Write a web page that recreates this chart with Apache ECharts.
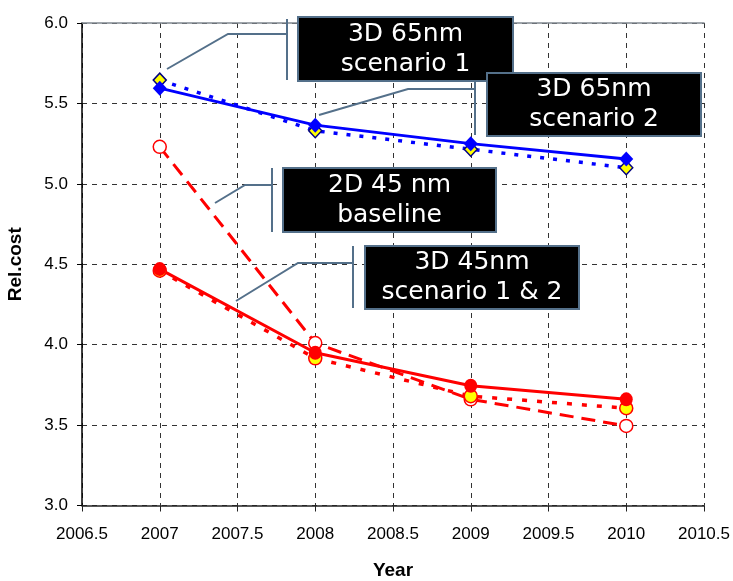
<!DOCTYPE html>
<html><head><meta charset="utf-8">
<script src="https://cdn.jsdelivr.net/npm/echarts@6/dist/echarts.min.js"></script>
<style>html,body{margin:0;padding:0;background:#fff}#c{width:733px;height:581px}</style>
</head><body><div id="c"></div>
<script>
// ---- data ----
const years = [2007, 2008, 2009, 2010];
const nm65_scenario1 = [5.595, 5.365, 5.25, 5.155];
const nm65_scenario2 = [5.645, 5.33, 5.215, 5.10];
const nm45_3d_scen1 = [4.47, 3.95, 3.745, 3.66];
const nm45_3d_scen2 = [4.46, 3.915, 3.68, 3.605];
const nm45_2d_base = [5.23, 4.01, 3.66, 3.495];
const calloutTexts = ['3D 65nm\nscenario 1', '3D 65nm\nscenario 2', '2D 45 nm\nbaseline', '3D 45nm\nscenario 1 & 2'];
const xTicks = {min: 2006.5, max: 2010.5, step: 0.5};
const yTicks = {min: 3.0, max: 6.0, step: 0.5};

// ---- layout of callouts (pixels) ----
const calloutLayout = [
  {box:[298,17,215,64], leader:[[167,69],[228,34],[287,34]], bar:[287,19,80]},
  {box:[487,73,214,63], leader:[[319,115],[408,89],[475,89]], bar:[475,73,135]},
  {box:[283,168,213,64], leader:[[215,203],[245,185],[272,185]], bar:[272,168,232]},
  {box:[365,246,214,63], leader:[[236,301],[298,263],[353,263]], bar:[353,246,308]}
];

const pair = arr => years.map((y,i)=>[y, arr[i]]);
const chart = echarts.init(document.getElementById('c'), null, {renderer:'canvas'});

const slate = '#54708a';
const graphic = [];
calloutTexts.forEach((t,i)=>{
  const L = calloutLayout[i];
  graphic.push({type:'polyline', shape:{points:L.leader}, style:{stroke:slate, lineWidth:2, fill:null}, z:100});
  graphic.push({type:'line', shape:{x1:L.bar[0], y1:L.bar[1], x2:L.bar[0], y2:L.bar[2]}, style:{stroke:slate, lineWidth:2}, z:100});
  graphic.push({type:'rect', shape:{x:L.box[0], y:L.box[1], width:L.box[2], height:L.box[3]}, style:{fill:'#000', stroke:slate, lineWidth:2}, z:101});
  graphic.push({type:'text', x:L.box[0]+L.box[2]/2, y:L.box[1]+L.box[3]/2, z:102,
    style:{text:t, fill:'#fff', font:'25px "DejaVu Sans"', align:'center', verticalAlign:'middle', lineHeight:30}});
});

const labelFont = {fontFamily:'Liberation Sans', fontSize:17, color:'#000'};

chart.setOption({
  animation:false,
  backgroundColor:'#fff',
  grid:{left:82, right:29, top:23, bottom:75.5, containLabel:false, outerBoundsMode:'none'},
  xAxis:[{
    type:'value', min:xTicks.min, max:xTicks.max, interval:xTicks.step,
    name:'Year', nameLocation:'middle', nameGap:56,
    nameTextStyle:{fontFamily:'Liberation Sans', fontSize:19, fontWeight:'bold', color:'#000'},
    axisLine:{show:true, onZero:false, lineStyle:{color:'#222', width:1.5}},
    axisTick:{show:true, inside:false, length:6, lineStyle:{color:'#222'}},
    axisLabel:Object.assign({margin:20, formatter:v=>String(v)}, labelFont),
    splitLine:{show:true, lineStyle:{color:'#333', type:[5,5], width:1}}
  },{
    type:'value', position:'top', min:xTicks.min, max:xTicks.max, interval:xTicks.step,
    axisLine:{show:true, onZero:false, lineStyle:{color:'#808890', width:1.5}},
    axisTick:{show:false}, axisLabel:{show:false}, splitLine:{show:false}
  }],
  yAxis:{
    type:'value', min:yTicks.min, max:yTicks.max, interval:yTicks.step,
    name:'Rel.cost', nameLocation:'middle', nameGap:57,
    nameTextStyle:{fontFamily:'Liberation Sans', fontSize:19, fontWeight:'bold', color:'#000'},
    axisLine:{show:true, lineStyle:{color:'#000', width:1.5}},
    axisTick:{show:true, length:5, lineStyle:{color:'#000'}},
    axisLabel:Object.assign({margin:14, formatter:v=>v.toFixed(1)}, labelFont),
    splitLine:{show:true, lineStyle:{color:'#333', type:[5,5], width:1}}
  },
  graphic: graphic,
  series:[
    {name:'3D 65nm scenario 2', type:'line', data:pair(nm65_scenario2),
      lineStyle:{color:'#0000ff', width:3.5, type:[4,9]},
      symbol:'diamond', symbolSize:[13,14],
      itemStyle:{color:'#ffff00', borderColor:'#000080', borderWidth:1.5}},
    {name:'3D 65nm scenario 1', type:'line', data:pair(nm65_scenario1),
      lineStyle:{color:'#0000ff', width:3},
      symbol:'diamond', symbolSize:[14,15],
      itemStyle:{color:'#0000ff', borderColor:'#0000ff', borderWidth:0}},
    {name:'2D 45 nm baseline', type:'line', data:pair(nm45_2d_base),
      lineStyle:{color:'#ff0000', width:3, type:[14,8]},
      symbol:'circle', symbolSize:13,
      itemStyle:{color:'#ffffff', borderColor:'#ff0000', borderWidth:1.5}},
    {name:'3D 45nm scenario 2', type:'line', data:pair(nm45_3d_scen2),
      lineStyle:{color:'#ff0000', width:3.5, type:[5,10]},
      symbol:'circle', symbolSize:13,
      itemStyle:{color:'#ffff00', borderColor:'#ff0000', borderWidth:1.5}},
    {name:'3D 45nm scenario 1', type:'line', data:pair(nm45_3d_scen1),
      lineStyle:{color:'#ff0000', width:3},
      symbol:'circle', symbolSize:[13,14],
      itemStyle:{color:'#ff0000', borderColor:'#ff0000', borderWidth:0}}
  ]
});
</script></body></html>
